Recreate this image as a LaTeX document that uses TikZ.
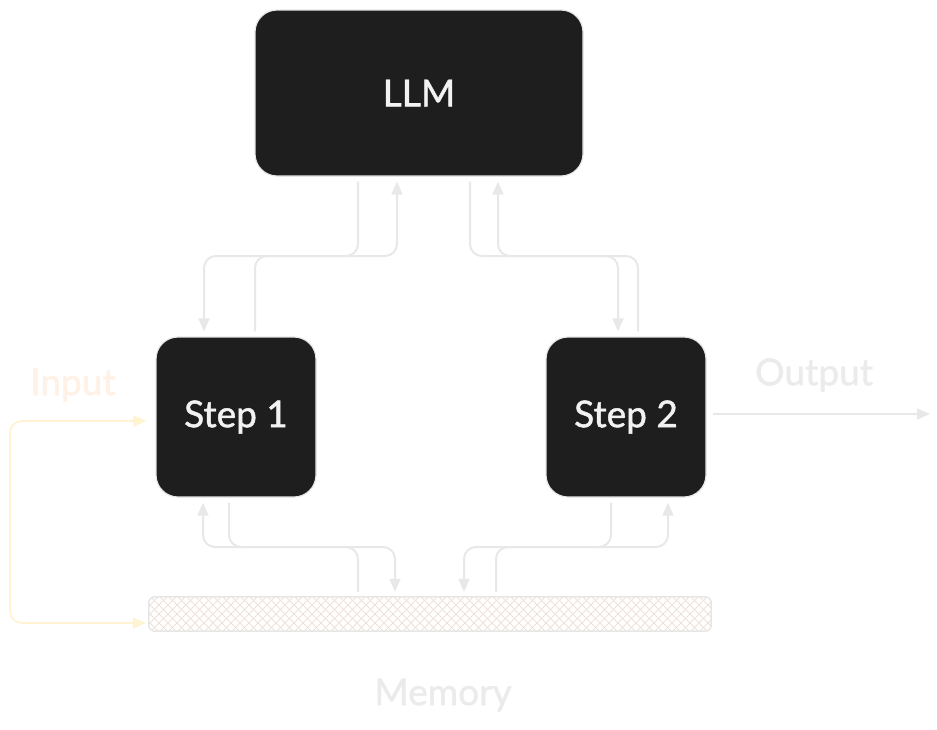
\documentclass[tikz,border=0pt]{standalone}
\usepackage{fontspec}
\setmainfont{Lato}
\newfontfamily\medfont{Lato}[FakeBold=1.3]
\usetikzlibrary{arrows.meta,calc}
\definecolor{boxfill}{HTML}{1E1E1E}
\definecolor{boxline}{HTML}{E6E6E6}
\definecolor{cline}{HTML}{E8E8E8}
\definecolor{inline}{HTML}{FFF3D1}
\definecolor{intext}{HTML}{FFF1E6}
\definecolor{labtext}{HTML}{EBEBEB}
\definecolor{hatch}{HTML}{EEE0DA}
\definecolor{boxtext}{HTML}{F2F2F2}
\begin{document}
\begin{tikzpicture}[x=1pt,y=-1pt,
  blackbox/.style={draw=boxline, line width=1.2pt, fill=boxfill, rounded corners=22pt, text=boxtext, font=\medfont\fontsize{37}{44}\selectfont},
  conn/.style={draw=cline, line width=2pt, rounded corners=12pt, -{Triangle[length=13pt,width=11pt]}, shorten >=5pt, shorten <=5pt},
  lab/.style={font=\medfont\fontsize{37}{44}\selectfont}
]
\useasboundingbox (0,0) rectangle (937,729);
\node[blackbox, minimum width=328pt, minimum height=166pt] (llm) at (419,93) {LLM};
\node[blackbox, minimum width=160pt, minimum height=160pt] (s1) at (236,417) {\raisebox{-3pt}{Step 1}};
\node[blackbox, minimum width=160pt, minimum height=160pt] (s2) at (626,417) {\raisebox{-2pt}{Step 2}};
\node[minimum width=562pt, minimum height=34pt, inner sep=0pt] (mem) at (430,614) {};
% hatch
\begin{scope}
  \clip[rounded corners=6pt] (mem.south west) rectangle (mem.north east);
  \foreach \i in {0,9,...,620} {
    \draw[hatch, line width=0.9pt] (115+\i,597) -- (149+\i,631);
    \draw[hatch, line width=0.9pt] (149+\i,597) -- (115+\i,631);
  }
\end{scope}
\draw[boxline, line width=1.5pt, rounded corners=6pt] (mem.south west) rectangle (mem.north east);
% labels
\node[lab, text=intext] (inlab) at (73,385) {Input};
\node[lab, text=labtext] (outlab) at (814,375) {Output};
\node[lab, text=labtext] (memlab) at (443,695) {Memory};
% LLM <-> steps
\draw[conn] (358,0 |- llm.south) -- (358,256) -- (204,256) -- (204,0 |- s1.north);
\draw[conn] (255,0 |- s1.north) -- (255,256) -- (397,256) -- (397,0 |- llm.south);
\draw[conn] (470,0 |- llm.south) -- (470,256) -- (618,256) -- (618,0 |- s2.north);
\draw[conn] (638,0 |- s2.north) -- (638,256) -- (498,256) -- (498,0 |- llm.south);
% steps <-> memory
\draw[conn] (229,0 |- s1.south) -- (229,547) -- (395,547) -- (395,0 |- mem.north);
\draw[conn] (358,0 |- mem.north) -- (358,547) -- (203,547) -- (203,0 |- s1.south);
\draw[conn] (611,0 |- s2.south) -- (611,547) -- (464,547) -- (464,0 |- mem.north);
\draw[conn] (496,0 |- mem.north) -- (496,547) -- (668,547) -- (668,0 |- s2.south);
% output
\coordinate (outend) at (930,414);
\draw[conn, shorten >=0pt, shorten <=6pt] (0,414 -| s2.east) -- (outend);
% input
\draw[draw=inline, line width=1.8pt, rounded corners=12pt, {Triangle[length=13pt,width=11pt]}-{Triangle[length=13pt,width=11pt]}, shorten <=9pt, shorten >=3pt]
  (0,421 -| s1.west) -- (10,421) -- (10,623) -- (0,623 -| mem.west);
\end{tikzpicture}
\end{document}
